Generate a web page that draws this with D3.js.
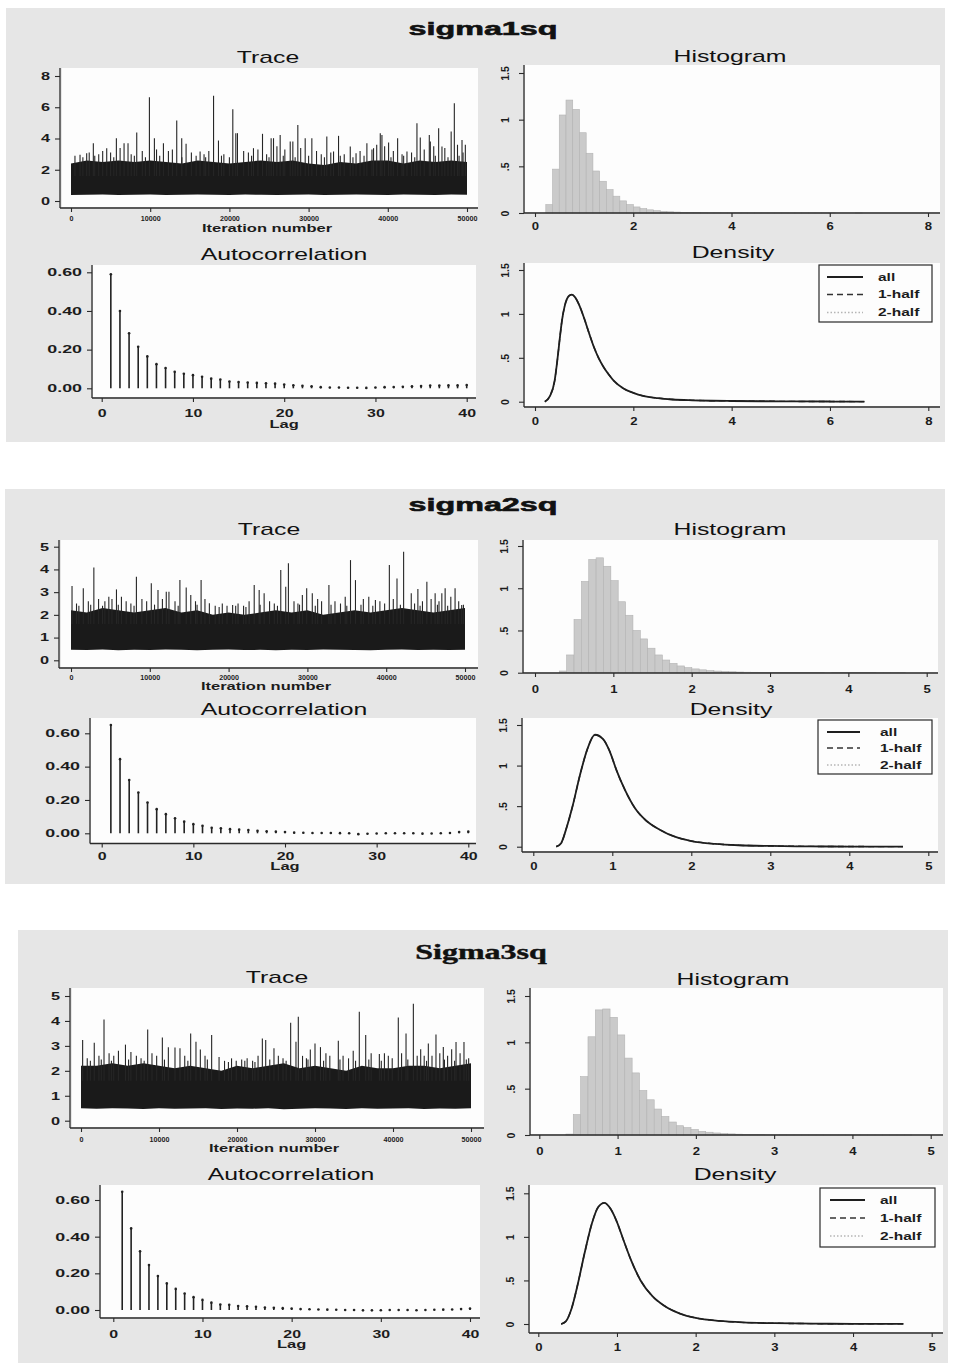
<!DOCTYPE html>
<html>
<head>
<meta charset="utf-8">
<script src="https://cdn.jsdelivr.net/npm/d3@7"></script>
<style>
  body { margin: 0; background: #ffffff; }
  svg { display: block; }
</style>
</head>
<body>
<script>
// ------------------------------------------------------------------
// MCMC convergence diagnostics for three variance parameters
// ------------------------------------------------------------------

// ---- shared axis values ----
const traceIter = [0, 2000, 4000, 6000, 8000, 10000, 12000, 14000, 16000, 18000, 20000, 22000, 24000,
  26000, 28000, 30000, 32000, 34000, 36000, 38000, 40000, 42000, 44000, 46000, 48000, 50000];
const traceXTicks = [0, 10000, 20000, 30000, 40000, 50000];
const acLags = d3.range(1, 41);
const acXTicks = [0, 10, 20, 30, 40];
const acYTicks = [0, 0.2, 0.4, 0.6];
const densYTicks = [0, 0.5, 1, 1.5];
const legendLabels = ["all", "1-half", "2-half"];

// ---- sigma1sq ----
const s1TraceTicks = [0, 2, 4, 6, 8];
const s1BandTop = [2.4, 2.6, 2.5, 2.6, 2.5, 2.6, 2.5, 2.4, 2.6, 2.5, 2.4, 2.5, 2.6, 2.5, 2.6, 2.4, 2.3, 2.5, 2.4, 2.6, 2.6, 2.4, 2.6, 2.5, 2.6, 2.5];
const s1BandLow = [0.38, 0.4, 0.42, 0.39, 0.4, 0.41, 0.38, 0.4, 0.42, 0.4, 0.39, 0.41, 0.4, 0.38, 0.4, 0.41, 0.39, 0.4, 0.42, 0.4, 0.38, 0.41, 0.4, 0.39, 0.41, 0.4];
const s1Spikes = [[500,2.9],[1140,2.96],[1980,3.06],[2300,3.1],[2820,3.7],[3500,3.0],[4000,3.2],[4510,3.38],[5000,3.1],
  [5730,4.02],[6200,3.4],[6700,3.7],[7200,3.7],[7600,3.0],[8300,4.38],[9000,3.2],[9900,6.64],[10530,4.02],[10800,3.3],
  [11670,3.7],[12300,3.2],[12800,3.3],[13350,5.15],[13980,4.02],[14530,3.66],[15200,3.1],[16300,3.17],[16800,3.0],
  [17400,3.2],[18000,6.74],[18620,3.87],[19300,3.0],[20430,5.87],[20810,4.34],[21020,4.34],[21800,3.2],[22400,3.1],
  [23040,3.38],[23600,3.3],[24180,4.3],[24700,3.0],[25270,4.02],[25570,4.02],[26000,3.5],[26410,4.23],[27000,3.3],
  [27680,3.81],[28010,3.81],[28640,4.87],[29000,3.4],[29570,4.02],[30410,4.02],[31000,3.2],[31600,3.0],[32300,4.13],
  [32800,3.1],[33150,3.17],[33780,4.17],[34500,3.0],[35260,3.49],[35990,3.06],[36500,3.2],[37360,3.7],[38000,3.3],
  [38200,3.38],[38600,3.6],[39050,4.34],[39260,4.23],[39600,3.5],[40100,3.74],[40700,3.2],[41240,4.02],[41800,3.0],
  [42420,3.17],[43000,3.1],[43680,4.98],[44100,4.06],[44600,3.3],[45240,4.23],[45370,3.81],[45800,3.5],[46420,4.66],
  [46840,3.49],[47200,3.4],[48000,4.45],[48400,6.26],[48800,3.6],[49370,3.91],[49500,3.1],[49790,3.6]];
const s1SmallSpikes = [[1500,2.8],[3000,2.9],[5400,2.8],[8000,2.9],[9400,2.8],[11200,2.9],[14000,2.8],[15800,2.9],
  [17000,2.8],[19000,2.9],[20000,2.8],[22800,2.9],[25000,2.8],[26800,2.9],[28300,2.8],[30000,2.9],[32000,2.8],
  [34000,2.9],[35600,2.8],[37000,2.9],[40400,2.8],[42000,2.9],[43400,2.8],[46000,2.9],[47600,2.8],[49000,2.9]];
const s1HistStart = 0.22, s1HistWidth = 0.137;
const s1Hist = [0.09, 0.47, 1.05, 1.21, 1.11, 0.86, 0.64, 0.45, 0.34, 0.25, 0.18, 0.13, 0.09, 0.065, 0.047, 0.034,
  0.025, 0.018, 0.013, 0.01, 0.007, 0.005, 0.004, 0.003, 0.002, 0.002, 0.0015, 0.001, 0.001, 0.001, 0.0007, 0.0005,
  0.0005, 0.0004, 0.0003, 0.0003, 0.0002, 0.0002, 0.0002, 0.0001, 0.0001, 0.0001, 0.0001, 0, 0, 0, 0.0001];
const s1Acf = [0.59, 0.40, 0.285, 0.215, 0.165, 0.125, 0.105, 0.085, 0.075, 0.068, 0.06, 0.05, 0.045, 0.035, 0.032,
  0.03, 0.028, 0.026, 0.024, 0.02, 0.016, 0.013, 0.01, 0.006, 0.004, 0.004, 0.003, 0.003, 0.002, 0.004, 0.006, 0.007,
  0.008, 0.01, 0.012, 0.014, 0.014, 0.015, 0.015, 0.017];
const s1DensX = [0.2, 0.3, 0.4, 0.45, 0.5, 0.55, 0.6, 0.65, 0.7, 0.75, 0.8, 0.9, 1.0, 1.1, 1.2, 1.3, 1.4, 1.5, 1.6,
  1.8, 2.0, 2.2, 2.5, 2.8, 3.2, 3.6, 4.0, 5.0, 6.0, 6.7];
const s1DensY = [0.0, 0.06, 0.24, 0.45, 0.7, 0.93, 1.08, 1.17, 1.21, 1.22, 1.2, 1.1, 0.95, 0.78, 0.62, 0.49, 0.39,
  0.31, 0.24, 0.15, 0.1, 0.065, 0.04, 0.025, 0.016, 0.011, 0.008, 0.004, 0.002, 0.001];

// ---- sigma2sq ----
const s2TraceTicks = [0, 1, 2, 3, 4, 5];
const s2BandTop = [2.2, 2.1, 2.3, 2.2, 2.1, 2.2, 2.3, 2.1, 2.2, 2.0, 2.1, 2.0, 2.1, 2.2, 2.1, 2.2, 2.0, 2.1, 2.2, 2.1, 2.2, 2.3, 2.2, 2.1, 2.2, 2.3];
const s2BandLow = [0.46, 0.45, 0.47, 0.44, 0.46, 0.45, 0.47, 0.46, 0.44, 0.46, 0.47, 0.45, 0.46, 0.44, 0.46, 0.45, 0.47, 0.46, 0.45, 0.44, 0.46, 0.47, 0.45, 0.46, 0.45, 0.46];
const s2Spikes = [[130,3.27],[700,2.5],[1560,3.17],[2200,2.6],[2900,4.09],[3500,2.7],[4300,2.6],[4800,2.8],[5200,2.7],
  [5770,3.12],[6400,2.8],[7000,2.6],[7600,2.5],[8300,3.68],[9000,2.7],[9600,2.6],[10190,3.39],[11040,3.09],[11600,2.7],
  [12090,3.02],[12430,3.02],[13200,2.6],[13820,3.53],[14620,3.2],[15200,2.87],[15800,2.6],[16510,3.53],[17000,2.7],
  [17560,2.51],[18300,2.4],[19200,2.5],[19800,2.4],[20510,2.43],[21200,2.5],[21900,2.4],[22600,2.6],[23250,3.31],
  [23880,3.09],[24510,2.95],[25200,2.6],[25800,2.5],[26620,3.97],[27250,3.24],[27590,4.27],[28300,2.6],[28800,2.5],
  [29360,2.87],[29910,3.17],[30620,2.95],[31300,2.7],[31800,2.6],[32730,3.31],[33500,2.6],[34200,2.5],[34800,2.8],
  [35470,4.41],[36100,3.53],[37100,2.7],[37790,2.8],[38630,2.65],[39200,2.6],[39800,2.5],[40400,4.19],[40900,2.7],
  [41370,3.6],[42210,4.78],[43180,2.95],[43600,2.5],[44020,3.14],[44600,2.6],[45160,3.46],[45700,2.7],[46210,2.95],
  [46700,2.6],[47060,2.95],[47480,3.17],[48200,2.8],[48740,3.17],[49200,2.6],[49580,2.43]];
const s2SmallSpikes = [[1000,2.4],[2500,2.45],[4000,2.4],[6000,2.45],[8000,2.4],[10600,2.45],[13600,2.4],[16000,2.45],
  [18800,2.35],[20900,2.4],[22200,2.35],[24000,2.45],[26200,2.4],[29000,2.45],[31000,2.4],[33000,2.45],[35000,2.4],
  [36800,2.45],[38300,2.4],[41800,2.45],[44300,2.4],[46500,2.45],[47800,2.4],[49800,2.45]];
const s2HistStart = 0.31, s2HistWidth = 0.094;
const s2Hist = [0.02, 0.21, 0.63, 1.08, 1.34, 1.36, 1.26, 1.09, 0.84, 0.68, 0.5, 0.4, 0.29, 0.21, 0.15, 0.11, 0.08,
  0.06, 0.045, 0.034, 0.025, 0.019, 0.014, 0.011, 0.008, 0.006, 0.005, 0.004, 0.003, 0.002, 0.002, 0.0015, 0.001,
  0.001, 0.001, 0.0008, 0.0006, 0.0005, 0.0004, 0.0003, 0.0003, 0.0002, 0.0002, 0.0001, 0.0001, 0.0001, 0.0001];
const s2Acf = [0.65, 0.445, 0.32, 0.245, 0.185, 0.145, 0.115, 0.09, 0.07, 0.055, 0.045, 0.033, 0.03, 0.025, 0.022,
  0.02, 0.015, 0.012, 0.01, 0.008, 0.004, 0.003, 0.002, 0.002, 0.002, 0.001, 0.0, -0.005, -0.003, -0.001, 0.0, 0.0,
  0.0, 0.0, -0.002, -0.001, 0.0, 0.002, 0.008, 0.01];
const s2DensX = [0.29, 0.35, 0.42, 0.5, 0.59, 0.68, 0.78, 0.88, 0.97, 1.05, 1.16, 1.29, 1.43, 1.6, 1.8, 2.0, 2.3,
  2.6, 3.0, 3.5, 4.0, 4.68];
const s2DensY = [0.0, 0.04, 0.23, 0.51, 0.88, 1.19, 1.38, 1.33, 1.17, 0.95, 0.7, 0.47, 0.32, 0.21, 0.12, 0.07,
  0.035, 0.018, 0.009, 0.004, 0.002, 0.001];

// ---- Sigma3sq ----
const s3TraceTicks = [0, 1, 2, 3, 4, 5];
const s3BandTop = [2.2, 2.2, 2.3, 2.2, 2.3, 2.2, 2.1, 2.2, 2.1, 2.0, 2.2, 2.1, 2.2, 2.3, 2.1, 2.2, 2.1, 2.0, 2.2, 2.1, 2.1, 2.2, 2.2, 2.1, 2.2, 2.3];
const s3BandLow = [0.5, 0.48, 0.5, 0.49, 0.47, 0.5, 0.48, 0.49, 0.5, 0.47, 0.49, 0.48, 0.5, 0.46, 0.48, 0.5, 0.49, 0.47, 0.5, 0.48, 0.49, 0.5, 0.47, 0.49, 0.48, 0.5];
const s3Spikes = [[210,3.24],[800,2.5],[1700,3.13],[2300,2.6],[2950,4.06],[3600,2.7],[4200,2.6],[4800,2.8],[5700,3.05],
  [6400,2.75],[7100,2.6],[7700,2.5],[8550,3.66],[9100,2.7],[9700,2.6],[10430,3.34],[11200,2.95],[12050,2.94],
  [12690,2.9],[13300,2.6],[14060,3.5],[14740,3.17],[15300,2.85],[15900,2.6],[16750,3.44],[17700,2.55],[18400,2.4],
  [19300,2.5],[19900,2.4],[20600,2.45],[21300,2.5],[22000,2.4],[22700,2.6],[23250,3.3],[23680,3.24],[24740,2.9],
  [25300,2.6],[25900,2.5],[26880,3.93],[27560,3.17],[27860,4.17],[28400,2.6],[28900,2.5],[29400,2.85],[30000,3.1],
  [30700,2.95],[31400,2.7],[31900,2.6],[32990,3.21],[33600,2.6],[34300,2.5],[34900,2.8],[35680,4.37],[36500,3.44],
  [37200,2.7],[38250,2.67],[38900,2.7],[39400,2.6],[39900,2.5],[40680,4.14],[41100,2.7],[41670,3.5],[42610,4.69],
  [43100,2.6],[43550,2.86],[44000,2.6],[44530,3.1],[45000,2.6],[45510,3.46],[46000,2.7],[46450,2.96],[47000,2.6],
  [47520,2.86],[48080,3.16],[48600,2.7],[49100,3.16],[49700,2.5]];
const s3SmallSpikes = [[1200,2.4],[2600,2.45],[3900,2.4],[6100,2.45],[8100,2.4],[10700,2.45],[13700,2.4],[16200,2.45],
  [18900,2.35],[21000,2.4],[22300,2.35],[24200,2.45],[26300,2.4],[29100,2.45],[31100,2.4],[33200,2.45],[35200,2.4],
  [36900,2.45],[38500,2.4],[41900,2.45],[44300,2.4],[46600,2.45],[47900,2.4],[49400,2.45]];
const s3HistStart = 0.34, s3HistWidth = 0.094;
const s3Hist = [0.01, 0.22, 0.63, 1.06, 1.35, 1.36, 1.27, 1.08, 0.83, 0.67, 0.48, 0.38, 0.28, 0.2, 0.14, 0.1, 0.08,
  0.06, 0.04, 0.03, 0.022, 0.016, 0.012, 0.009, 0.007, 0.005, 0.004, 0.003, 0.002, 0.002, 0.0015, 0.001, 0.001,
  0.001, 0.0008, 0.0006, 0.0005, 0.0004, 0.0003, 0.0003, 0.0002, 0.0002, 0.0002, 0.0001, 0.0001, 0.0001, 0.0001];
const s3Acf = [0.645, 0.445, 0.32, 0.245, 0.185, 0.145, 0.115, 0.09, 0.07, 0.055, 0.04, 0.03, 0.028, 0.022, 0.02,
  0.018, 0.014, 0.012, 0.01, 0.008, 0.005, 0.004, 0.003, 0.002, 0.001, 0.0, 0.0, -0.002, -0.002, -0.001, 0.0, 0.0,
  0.0, -0.001, 0.0, 0.001, 0.002, 0.003, 0.005, 0.008];
const s3DensX = [0.29, 0.35, 0.42, 0.5, 0.59, 0.68, 0.76, 0.84, 0.92, 1.0, 1.08, 1.18, 1.3, 1.45, 1.6, 1.8, 2.0,
  2.3, 2.6, 3.0, 3.5, 4.0, 4.64];
const s3DensY = [0.0, 0.03, 0.17, 0.45, 0.82, 1.15, 1.34, 1.39, 1.32, 1.17, 0.97, 0.73, 0.5, 0.32, 0.21, 0.12, 0.07,
  0.035, 0.018, 0.009, 0.004, 0.002, 0.001];

// ------------------------------------------------------------------
// page layout (pixels)
// ------------------------------------------------------------------
const W = 953, H = 1363;
const SANS = "'Liberation Sans', Arial, sans-serif";
const SERIF = "'Liberation Serif', 'Times New Roman', serif";
const INK = "#1c1c1c";

const panels = [
  {
    name: "sigma1sq", nameFont: SANS, nameY: 35, nameX: 483,
    bg: [6, 8, 945, 442],
    trace: { plot: [62, 68, 478, 207], ax: 60, ay: 208, xr: [71, 467], yr: [201, 76], ymax: 8,
      title: [268, 63], tickY: 221, labY: 232, ticks: s1TraceTicks, top: s1BandTop, low: s1BandLow,
      spikes: s1Spikes.concat(s1SmallSpikes) },
    hist: { plot: [525, 65, 940, 212], ax: 524, ay: 213, xr: [535, 928], yr: [213, 73], xmax: 8,
      title: [730, 62], tickY: 230, start: s1HistStart, width: s1HistWidth, h: s1Hist },
    ac: { plot: [93, 265, 476, 397], ax: 92, ay: 398, xr: [101.7, 466.7], yr: [388.3, 272.3],
      title: [284, 260], tickY: 417, labY: 428, v: s1Acf },
    dens: { plot: [525, 263, 940, 406], ax: 524, ay: 407, xr: [535, 928.3], yr: [401.7, 270], xmax: 8,
      title: [733, 258], tickY: 425, dx: s1DensX, dy: s1DensY,
      legend: { box: [819, 265, 932, 322], rows: [277, 294.5, 312.5], l0: 827, l1: 863, tx: 878 } }
  },
  {
    name: "sigma2sq", nameFont: SANS, nameY: 511, nameX: 483,
    bg: [5, 489, 945, 884],
    trace: { plot: [61, 540, 478, 667], ax: 59, ay: 668, xr: [71, 465], yr: [660.3, 546.7], ymax: 5,
      title: [269, 535], tickY: 680, labY: 690, ticks: s2TraceTicks, top: s2BandTop, low: s2BandLow,
      spikes: s2Spikes.concat(s2SmallSpikes) },
    hist: { plot: [524, 540, 938, 672], ax: 523, ay: 673, xr: [535, 926.7], yr: [672.7, 546], xmax: 5,
      title: [730, 535], tickY: 693, start: s2HistStart, width: s2HistWidth, h: s2Hist },
    ac: { plot: [91, 718, 476, 843], ax: 90, ay: 843.5, xr: [101.7, 468.3], yr: [833.3, 733.3],
      title: [284, 715], tickY: 860, labY: 870, v: s2Acf },
    dens: { plot: [523, 718, 938, 851], ax: 522, ay: 852, xr: [533.3, 928.3], yr: [846.7, 725], xmax: 5,
      title: [731, 715], tickY: 870, dx: s2DensX, dy: s2DensY,
      legend: { box: [818, 720, 932, 774], rows: [732, 748, 765], l0: 827, l1: 860, tx: 880 } }
  },
  {
    name: "Sigma3sq", nameFont: SERIF, nameY: 959, nameX: 481,
    bg: [18, 930, 948, 1363],
    trace: { plot: [72, 988, 484, 1127], ax: 70, ay: 1128, xr: [81, 471], yr: [1120.7, 996], ymax: 5,
      title: [277, 983], tickY: 1142, labY: 1152, ticks: s3TraceTicks, top: s3BandTop, low: s3BandLow,
      spikes: s3Spikes.concat(s3SmallSpikes) },
    hist: { plot: [531, 988, 943, 1134], ax: 530, ay: 1135, xr: [539.3, 930.7], yr: [1135, 996], xmax: 5,
      title: [733, 985], tickY: 1155, start: s3HistStart, width: s3HistWidth, h: s3Hist },
    ac: { plot: [101, 1185, 480, 1317], ax: 100, ay: 1318, xr: [113.3, 470], yr: [1310, 1200],
      title: [291, 1180], tickY: 1338, labY: 1348, v: s3Acf },
    dens: { plot: [530, 1185, 943, 1332], ax: 529, ay: 1333, xr: [538.3, 931.7], yr: [1324, 1193.3], xmax: 5,
      title: [735, 1180], tickY: 1351.5, dx: s3DensX, dy: s3DensY,
      legend: { box: [820, 1188, 935, 1247], rows: [1200, 1218, 1236], l0: 830, l1: 865, tx: 880 } }
  }
];

// ------------------------------------------------------------------
// helpers
// ------------------------------------------------------------------
const svg = d3.select("body").append("svg").attr("width", W).attr("height", H);
svg.append("rect").attr("width", W).attr("height", H).attr("fill", "#ffffff");

// horizontally widened text, as in the exported graph fonts
function wideText(parent, x, y, str, o) {
  return parent.append("text")
    .attr("transform", `translate(${x},${y}) scale(${o.sx || 1},1)`)
    .attr("text-anchor", o.anchor || "middle")
    .attr("font-family", o.family || SANS)
    .attr("font-size", o.size || 12)
    .attr("font-weight", o.weight || "normal")
    .attr("fill", o.fill || INK)
    .attr("stroke", o.stroke || null)
    .attr("stroke-width", o.strokeW || null)
    .text(str);
}

function plotRegion(g, p) {
  g.append("rect").attr("x", p[0]).attr("y", p[1]).attr("width", p[2] - p[0]).attr("height", p[3] - p[1])
    .attr("fill", "#fdfdfd");
}

function axisLines(g, L) {
  g.append("line").attr("x1", L.ax).attr("x2", L.ax).attr("y1", L.plot[1]).attr("y2", L.ay)
    .attr("stroke", "#2a2a2a").attr("stroke-width", 1.3);
  g.append("line").attr("x1", L.ax).attr("x2", L.plot[2]).attr("y1", L.ay).attr("y2", L.ay)
    .attr("stroke", "#2a2a2a").attr("stroke-width", 1.3);
}

function styleAxis(ax, size, sx) {
  ax.select(".domain").remove();
  ax.attr("font-family", SANS).attr("font-size", size).attr("font-weight", "bold");
  ax.selectAll(".tick line").attr("stroke", "#2a2a2a").attr("stroke-width", 1.1);
  ax.selectAll(".tick text").attr("fill", INK).each(function () {
    const t = d3.select(this);
    const x = +t.attr("x") || 0;
    t.attr("x", x / sx).attr("transform", `scale(${sx},1)`);
  });
}

function bottomAxis(g, scale, L, ticks, fmt, size, sx) {
  const ax = g.append("g").attr("transform", `translate(0,${L.ay})`)
    .call(d3.axisBottom(scale).tickValues(ticks).tickFormat(fmt).tickSize(4).tickPadding(2));
  styleAxis(ax, size, sx);
  ax.selectAll(".tick text").attr("y", L.tickY - L.ay).attr("dy", "0");
  return ax;
}

function leftAxis(g, scale, L, ticks, fmt, size, sx) {
  const ax = g.append("g").attr("transform", `translate(${L.ax},0)`)
    .call(d3.axisLeft(scale).tickValues(ticks).tickFormat(fmt).tickSize(5).tickPadding(5));
  styleAxis(ax, size, sx);
  return ax;
}

// vertical (rotated) y labels for the density-scale panels
function leftAxisRotated(g, scale, L) {
  const fmt = d => d === 0 ? "0" : String(d).replace(/^0\./, ".");
  const ax = g.append("g").attr("transform", `translate(${L.ax},0)`)
    .call(d3.axisLeft(scale).tickValues(densYTicks).tickFormat(fmt).tickSize(5).tickPadding(5));
  ax.select(".domain").remove();
  ax.attr("font-family", SANS).attr("font-size", 10.5).attr("font-weight", "bold");
  ax.selectAll(".tick line").attr("stroke", "#2a2a2a").attr("stroke-width", 1.1);
  ax.selectAll(".tick text").attr("fill", INK)
    .attr("x", 0).attr("y", -15).attr("dy", "0")
    .attr("text-anchor", "middle").attr("transform", "rotate(-90)");
}

function subTitle(g, pos, str) {
  wideText(g, pos[0], pos[1], str, { size: 16, sx: 1.55, fill: "#111" });
}

// ------------------------------------------------------------------
// the four diagnostic plots
// ------------------------------------------------------------------
function drawTrace(g, L) {
  plotRegion(g, L.plot);
  const x = d3.scaleLinear().domain([0, 50000]).range(L.xr);
  const y = d3.scaleLinear().domain([0, L.ymax]).range(L.yr);

  const band = d3.area()
    .x((d, i) => x(traceIter[i]))
    .y0((d, i) => y(L.low[i]))
    .y1(d => y(d));
  g.append("path").datum(L.top).attr("d", band).attr("fill", "#1a1a1a");

  g.append("g").selectAll("line").data(L.spikes).join("line")
    .attr("x1", d => x(d[0])).attr("x2", d => x(d[0]))
    .attr("y1", y(1.6)).attr("y2", d => y(d[1]))
    .attr("stroke", "#262626").attr("stroke-width", 1.1);

  axisLines(g, L);
  leftAxis(g, y, L, L.ticks, d3.format("d"), 10.5, 1.55);
  bottomAxis(g, x, L, traceXTicks, d3.format("d"), 6.5, 1.1);
  subTitle(g, L.title, "Trace");
  wideText(g, (L.xr[0] + L.xr[1]) / 2 - 2, L.labY, "Iteration number", { size: 11, weight: "bold", sx: 1.5 });
}

function drawHist(g, L) {
  plotRegion(g, L.plot);
  const x = d3.scaleLinear().domain([0, L.xmax]).range(L.xr);
  const y = d3.scaleLinear().domain([0, 1.5]).range(L.yr);
  g.append("g").selectAll("rect").data(L.h).join("rect")
    .attr("x", (d, i) => x(L.start + i * L.width))
    .attr("width", (d, i) => x(L.start + (i + 1) * L.width) - x(L.start + i * L.width))
    .attr("y", d => y(d))
    .attr("height", d => y(0) - y(d))
    .attr("fill", "#cacaca").attr("stroke", "#b3b3b3").attr("stroke-width", 0.6);
  axisLines(g, L);
  leftAxisRotated(g, y, L);
  bottomAxis(g, x, L, d3.range(0, L.xmax + 1, L.xmax === 8 ? 2 : 1), d3.format("d"), 10.5, 1.25);
  subTitle(g, L.title, "Histogram");
}

function drawAC(g, L) {
  plotRegion(g, L.plot);
  const x = d3.scaleLinear().domain([0, 40]).range(L.xr);
  const y = d3.scaleLinear().domain([0, 0.6]).range(L.yr);
  const sp = g.append("g");
  sp.selectAll("line").data(L.v).join("line")
    .attr("x1", (d, i) => x(acLags[i])).attr("x2", (d, i) => x(acLags[i]))
    .attr("y1", y(0)).attr("y2", d => y(d))
    .attr("stroke", "#222").attr("stroke-width", 1.6);
  sp.selectAll("circle").data(L.v).join("circle")
    .attr("cx", (d, i) => x(acLags[i])).attr("cy", d => y(d)).attr("r", 1.3)
    .attr("fill", "#222");
  axisLines(g, L);
  leftAxis(g, y, L, acYTicks, d3.format(".2f"), 10.5, 1.7);
  bottomAxis(g, x, L, acXTicks, d3.format("d"), 11, 1.45);
  subTitle(g, L.title, "Autocorrelation");
  wideText(g, x(20), L.labY, "Lag", { size: 11, weight: "bold", sx: 1.5 });
}

function drawDensity(g, L) {
  plotRegion(g, L.plot);
  const x = d3.scaleLinear().domain([0, L.xmax]).range(L.xr);
  const y = d3.scaleLinear().domain([0, 1.5]).range(L.yr);
  const pts = L.dx.map((v, i) => [v, L.dy[i]]);
  const line = d3.line().x(d => x(d[0])).y(d => y(d[1])).curve(d3.curveMonotoneX);
  const styles = [
    { dash: "1.5,2", color: "#b5b5b5", w: 1.4 },  // 2-half
    { dash: "6,4", color: "#333", w: 1.4 },       // 1-half
    { dash: null, color: "#1e1e1e", w: 1.8 }      // all
  ];
  styles.forEach(s => {
    g.append("path").datum(pts).attr("d", line).attr("fill", "none")
      .attr("stroke", s.color).attr("stroke-width", s.w)
      .attr("stroke-dasharray", s.dash);
  });
  axisLines(g, L);
  leftAxisRotated(g, y, L);
  bottomAxis(g, x, L, d3.range(0, L.xmax + 1, L.xmax === 8 ? 2 : 1), d3.format("d"), 10.5, 1.25);
  subTitle(g, L.title, "Density");

  // legend
  const lg = L.legend, b = lg.box;
  g.append("rect").attr("x", b[0]).attr("y", b[1]).attr("width", b[2] - b[0]).attr("height", b[3] - b[1])
    .attr("fill", "#fdfdfd").attr("stroke", "#2a2a2a").attr("stroke-width", 1.2);
  const keyStyles = [styles[2], styles[1], styles[0]];
  legendLabels.forEach((lab, i) => {
    const s = keyStyles[i];
    g.append("line").attr("x1", lg.l0).attr("x2", lg.l1).attr("y1", lg.rows[i]).attr("y2", lg.rows[i])
      .attr("stroke", s.color).attr("stroke-width", s.w + 0.2).attr("stroke-dasharray", s.dash);
    wideText(g, lg.tx, lg.rows[i] + 3.5, lab, { size: 10, weight: "bold", sx: 1.55, anchor: "start" });
  });
}

// ------------------------------------------------------------------
// render
// ------------------------------------------------------------------
panels.forEach(P => {
  const g = svg.append("g");
  const b = P.bg;
  g.append("rect").attr("x", b[0]).attr("y", b[1]).attr("width", b[2] - b[0]).attr("height", b[3] - b[1])
    .attr("fill", "#e6e6e6");
  if (P.nameFont === SERIF) {
    wideText(g, P.nameX, P.nameY, P.name, { size: 20, weight: "bold", sx: 1.6, family: SERIF, fill: "#111",
      stroke: "#111", strokeW: 0.4 });
  } else {
    wideText(g, P.nameX, P.nameY, P.name, { size: 19, weight: "bold", sx: 1.7, fill: "#111",
      stroke: "#111", strokeW: 0.6 });
  }
  drawTrace(g, P.trace);
  drawHist(g, P.hist);
  drawAC(g, P.ac);
  drawDensity(g, P.dens);
});
</script>
</body>
</html>
